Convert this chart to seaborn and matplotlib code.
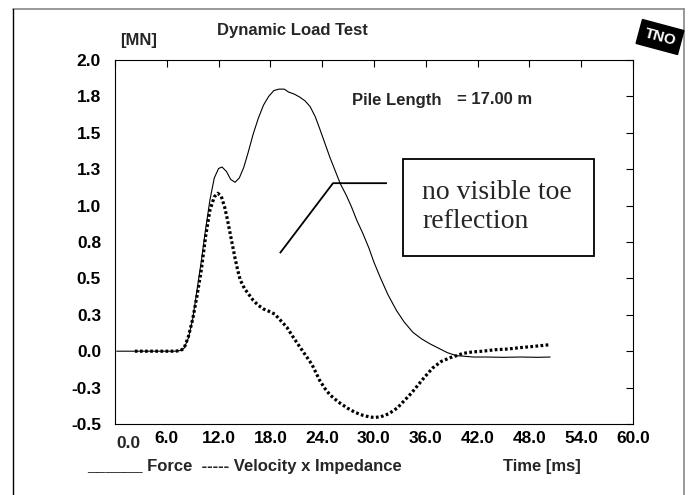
import matplotlib
matplotlib.use("Agg")
import matplotlib.pyplot as plt
import seaborn as sns
import pandas as pd
from matplotlib.patches import Rectangle
from matplotlib.lines import Line2D

# ---------------- data ----------------
force_t = [0.2, 2.0, 4.0, 6.0, 7.0, 7.6, 8.0, 8.5, 9.0, 9.5, 10.0, 10.5, 11.0, 11.5,
           12.0, 12.4, 12.9, 13.4, 13.9, 14.4, 14.9, 15.4, 16.0, 16.6, 17.2, 17.8,
           18.4, 19.0, 19.6, 20.1, 20.8, 21.4, 22.0, 22.6, 23.2, 23.7, 24.3, 24.9,
           25.5, 26.1, 26.8, 27.4, 28.0, 28.7, 29.4, 30.0, 30.7, 31.6, 32.6, 33.5,
           34.5, 35.5, 36.5, 37.5, 38.5, 39.5, 40.5, 41.5, 43.0, 45.0, 47.0, 49.0, 50.4]
force_v = [0.0, 0.0, 0.0, 0.0, 0.0, 0.005, 0.02, 0.09, 0.22, 0.42, 0.62, 0.84, 1.04, 1.19,
           1.255, 1.265, 1.235, 1.18, 1.16, 1.19, 1.26, 1.36, 1.49, 1.60, 1.69, 1.75,
           1.79, 1.80, 1.80, 1.78, 1.765, 1.745, 1.72, 1.68, 1.61, 1.53, 1.43, 1.33,
           1.24, 1.15, 1.07, 0.99, 0.90, 0.81, 0.71, 0.61, 0.51, 0.39, 0.28, 0.20,
           0.13, 0.085, 0.05, 0.02, -0.01, -0.03, -0.035, -0.04, -0.04, -0.042, -0.04, -0.042, -0.04]

vel_t = [2.3, 4.0, 6.0, 7.0, 7.6, 8.0, 8.5, 9.0, 9.5, 10.0, 10.5, 11.0, 11.5, 11.9,
         12.3, 12.7, 13.0, 13.3, 13.6, 13.9, 14.2, 14.5, 15.0, 15.5, 16.0, 16.6,
         17.2, 17.8, 18.5, 19.2, 19.9, 20.6, 21.4, 22.1, 22.8, 23.3, 23.7, 24.3,
         24.9, 25.9, 26.9, 27.8, 28.7, 29.5, 30.1, 30.8, 31.7, 32.7, 33.5, 34.3,
         35.0, 35.9, 36.8, 37.8, 38.8, 39.6, 40.3, 41.4, 42.6, 44.0, 45.5, 47.0,
         48.5, 50.4]
vel_v = [0.0, 0.0, 0.0, 0.0, 0.005, 0.02, 0.10, 0.22, 0.38, 0.56, 0.79, 0.97, 1.06, 1.085,
         1.065, 0.99, 0.91, 0.82, 0.73, 0.64, 0.56, 0.49, 0.43, 0.39, 0.35, 0.315,
         0.29, 0.275, 0.255, 0.21, 0.165, 0.10, 0.03, -0.03, -0.09, -0.15, -0.20, -0.255,
         -0.30, -0.35, -0.39, -0.42, -0.44, -0.452, -0.455, -0.45, -0.43, -0.39, -0.34, -0.29,
         -0.24, -0.175, -0.115, -0.07, -0.045, -0.03, -0.015, -0.005, 0.0, 0.01, 0.015, 0.025,
         0.033, 0.045]

x_ticks = [0, 6, 12, 18, 24, 30, 36, 42, 48, 54, 60]
x_tick_labels = ["", "6.0", "12.0", "18.0", "24.0", "30.0", "36.0", "42.0", "48.0", "54.0", "60.0"]
y_ticks = [-0.5, -0.25, 0.0, 0.25, 0.5, 0.75, 1.0, 1.25, 1.5, 1.75, 2.0]
y_tick_labels = ["-0.5", "-0.3", "0.0", "0.3", "0.5", "0.8", "1.0", "1.3", "1.5", "1.8", "2.0"]

title_text = "Dynamic Load Test"
unit_text = "[MN]"
pile_label = "Pile Length"
pile_value = "= 17.00 m"
note_text = "no visible toe\nreflection"
legend_text = "______ Force  ----- Velocity x Impedance"
xlabel_text = "Time [ms]"

# ---------------- figure ----------------
sns.set_style("white")
plt.rcParams['font.family'] = ['Liberation Sans', 'DejaVu Sans']

W, H = 695, 495
fig = plt.figure(figsize=(W / 100, H / 100), dpi=100)
fig.patch.set_facecolor("white")


def fx(px):
    return px / W


def fy(py):
    return 1 - py / H


TICK_FS = 12.5
TEXT_FS = 12

ax = fig.add_axes([fx(115), fy(424), (633 - 115) / W, (424 - 60) / H])

df_f = pd.DataFrame({"t": force_t, "v": force_v})
df_v = pd.DataFrame({"t": vel_t, "v": vel_v})
sns.lineplot(data=df_f, x="t", y="v", ax=ax, color="black", lw=0.8,
             sort=False, estimator=None)
sns.lineplot(data=df_v, x="t", y="v", ax=ax, color="black", lw=2.3,
             linestyle=(0, (0.85, 0.75)), sort=False, estimator=None)

ax.set_xlim(0, 60)
ax.set_ylim(-0.5, 2.0)
ax.set_xticks(x_ticks)
ax.set_xticklabels(x_tick_labels)
ax.set_yticks(y_ticks)
ax.set_yticklabels(y_tick_labels)
ax.set_xlabel("")
ax.set_ylabel("")
ax.tick_params(direction="in", length=5, width=0.8, top=True, right=True,
               labelsize=TICK_FS, colors="black")
ax.tick_params(axis="y", pad=10)
ax.tick_params(axis="x", pad=5)
for lab in ax.get_xticklabels() + ax.get_yticklabels():
    lab.set_fontweight("bold")
for sp in ax.spines.values():
    sp.set_visible(True)
    sp.set_color("black")
    sp.set_linewidth(0.8)

# the offset "0.0" x label
ax.annotate("0.0", xy=(0, 0), xycoords=("data", "axes fraction"),
            xytext=(13, -19), textcoords="offset pixels",
            ha="center", va="center", fontsize=TICK_FS, fontweight="bold")

# annotation pointer and box
ax.plot([19.1, 25.25, 31.5], [0.673, 1.154, 1.154], color="black", lw=1.3,
        solid_capstyle="butt")
ax.add_patch(Rectangle((33.36, 0.652), 55.48 - 33.36, 1.319 - 0.652,
                       fill=False, ec="black", lw=1.3))
ax.text(35.6, 0.99, note_text, ha="left", va="center", fontsize=20,
        family=["Liberation Serif", "DejaVu Serif"], linespacing=1.2)

# figure texts
fig.text(fx(217), fy(30), title_text, ha="left", va="center",
         fontsize=TEXT_FS, fontweight="bold")
fig.text(fx(120), fy(40), unit_text, ha="left", va="center",
         fontsize=TEXT_FS, fontweight="bold")
fig.text(fx(352), fy(100), pile_label, ha="left", va="center",
         fontsize=TEXT_FS, fontweight="bold")
fig.text(fx(457), fy(100), pile_value, ha="left", va="center",
         fontsize=TEXT_FS, fontweight="bold")
fig.text(fx(87), fy(466), legend_text, ha="left", va="center",
         fontsize=TEXT_FS, fontweight="bold")
fig.text(fx(503), fy(466), xlabel_text, ha="left", va="center",
         fontsize=TEXT_FS, fontweight="bold")

# TNO logo approximation
fig.text(fx(660), fy(37), "TNO", ha="center", va="center", color="white",
         fontsize=11, fontweight="heavy", rotation=-15,
         bbox=dict(boxstyle="square,pad=0.35", fc="black", ec="black"))

# outer frame
fig.add_artist(Line2D([fx(13), fx(684)], [fy(9), fy(9)], color="#888888", lw=1.2,
                      transform=fig.transFigure))
fig.add_artist(Line2D([fx(13), fx(13)], [fy(9), 0], color="black", lw=1.0,
                      transform=fig.transFigure))
fig.add_artist(Line2D([fx(684), fx(684)], [fy(9), 0], color="#888888", lw=1.2,
                      transform=fig.transFigure))

fig.savefig("out.png", dpi=100, facecolor="white")
